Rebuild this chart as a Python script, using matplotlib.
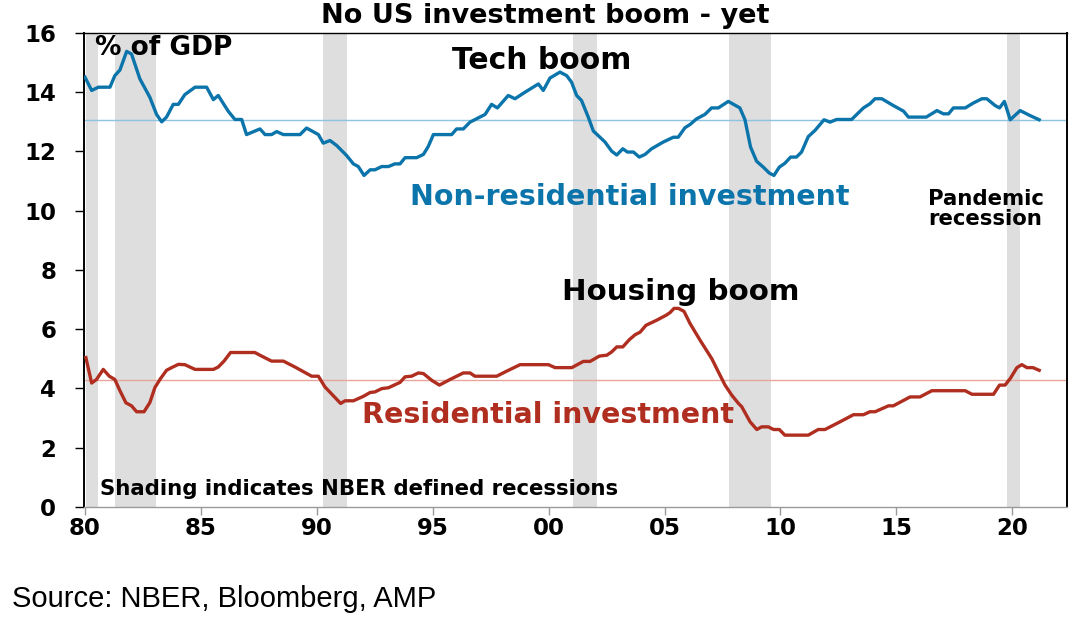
import numpy as np
import matplotlib
matplotlib.use("Agg")
import matplotlib.pyplot as plt

# --- data (year, % of GDP)
nonres_year = [1980.00, 1980.29, 1980.58, 1981.08, 1981.29, 1981.51, 1981.80, 1982.01,
               1982.37, 1982.80, 1983.09, 1983.31, 1983.52, 1983.81, 1984.03, 1984.31,
               1984.75, 1985.25, 1985.54, 1985.75, 1986.18, 1986.47, 1986.76, 1986.97,
               1987.55, 1987.77, 1988.05, 1988.27, 1988.56, 1989.28, 1989.56, 1990.07,
               1990.28, 1990.57, 1990.86, 1991.29, 1991.58, 1991.79, 1992.04, 1992.30,
               1992.51, 1992.80, 1993.09, 1993.37, 1993.59, 1993.81, 1994.31, 1994.60,
               1994.81, 1995.03, 1995.82, 1996.03, 1996.32, 1996.61, 1997.26, 1997.54,
               1997.79, 1998.26, 1998.55, 1998.98, 1999.56, 1999.77, 2000.06, 2000.49,
               2000.78, 2000.99, 2001.21, 2001.42, 2001.71, 2001.93, 2002.43, 2002.72,
               2002.94, 2003.20, 2003.40, 2003.66, 2003.91, 2004.16, 2004.44, 2004.95,
               2005.38, 2005.59, 2005.88, 2006.10, 2006.38, 2006.74, 2007.03, 2007.32,
               2007.75, 2008.25, 2008.47, 2008.71, 2008.97, 2009.26, 2009.52, 2009.72,
               2009.95, 2010.19, 2010.44, 2010.69, 2010.91, 2011.20, 2011.49, 2011.88,
               2012.14, 2012.42, 2013.07, 2013.29, 2013.58, 2013.86, 2014.08, 2014.37,
               2014.87, 2015.31, 2015.52, 2016.29, 2016.75, 2017.03, 2017.25, 2017.46,
               2017.97, 2018.33, 2018.69, 2018.90, 2019.26, 2019.45, 2019.66, 2019.91,
               2020.34, 2020.77, 2021.16]
nonres_val = [14.51, 14.06, 14.17, 14.17, 14.56, 14.75, 15.38, 15.29,
              14.45, 13.83, 13.25, 13.00, 13.16, 13.59, 13.59, 13.92,
              14.17, 14.17, 13.75, 13.89, 13.36, 13.08, 13.08, 12.57,
              12.76, 12.57, 12.57, 12.67, 12.57, 12.57, 12.79, 12.57,
              12.28, 12.37, 12.20, 11.86, 11.58, 11.49, 11.19, 11.38,
              11.38, 11.49, 11.49, 11.58, 11.58, 11.79, 11.79, 11.90,
              12.17, 12.57, 12.57, 12.76, 12.76, 12.99, 13.25, 13.59,
              13.47, 13.89, 13.78, 14.00, 14.28, 14.06, 14.48, 14.68,
              14.56, 14.34, 13.89, 13.72, 13.16, 12.69, 12.32, 12.01,
              11.88, 12.09, 11.98, 11.98, 11.81, 11.90, 12.09, 12.32,
              12.48, 12.48, 12.80, 12.91, 13.10, 13.25, 13.47, 13.47,
              13.69, 13.47, 13.07, 12.15, 11.67, 11.47, 11.27, 11.19,
              11.47, 11.60, 11.81, 11.81, 11.98, 12.50, 12.71, 13.07,
              12.99, 13.08, 13.08, 13.25, 13.47, 13.61, 13.78, 13.78,
              13.55, 13.36, 13.16, 13.16, 13.38, 13.27, 13.27, 13.47,
              13.47, 13.64, 13.78, 13.78, 13.55, 13.47, 13.69, 13.07,
              13.38, 13.21, 13.07]

res_year = [1980.04, 1980.29, 1980.50, 1980.79, 1981.05, 1981.29, 1981.51, 1981.77,
            1982.01, 1982.23, 1982.55, 1982.80, 1983.02, 1983.26, 1983.52, 1983.74,
            1984.03, 1984.31, 1984.75, 1985.54, 1985.75, 1986.00, 1986.28, 1987.33,
            1987.62, 1988.05, 1988.56, 1989.06, 1989.78, 1990.07, 1990.35, 1991.03,
            1991.22, 1991.58, 1992.01, 1992.30, 1992.51, 1992.80, 1993.09, 1993.59,
            1993.81, 1994.09, 1994.38, 1994.60, 1994.96, 1995.29, 1995.75, 1996.32,
            1996.61, 1996.82, 1997.76, 1998.19, 1998.77, 1999.99, 2000.28, 2001.00,
            2001.50, 2001.79, 2002.19, 2002.51, 2002.72, 2002.94, 2003.20, 2003.49,
            2003.73, 2003.95, 2004.20, 2004.66, 2005.07, 2005.24, 2005.41, 2005.60,
            2005.84, 2006.10, 2006.53, 2007.04, 2007.32, 2007.61, 2007.90, 2008.19,
            2008.33, 2008.69, 2008.98, 2009.19, 2009.48, 2009.70, 2009.95, 2010.19,
            2011.20, 2011.63, 2011.92, 2012.57, 2013.15, 2013.58, 2013.86, 2014.08,
            2014.66, 2014.87, 2015.59, 2016.02, 2016.53, 2017.97, 2018.26, 2019.19,
            2019.45, 2019.69, 2019.91, 2020.20, 2020.41, 2020.63, 2020.89, 2021.16]
res_val = [5.04, 4.18, 4.30, 4.64, 4.41, 4.30, 3.92, 3.51,
           3.41, 3.21, 3.21, 3.52, 4.03, 4.33, 4.61, 4.70,
           4.81, 4.80, 4.64, 4.64, 4.72, 4.92, 5.21, 5.21,
           5.09, 4.92, 4.92, 4.72, 4.41, 4.41, 4.05, 3.49,
           3.58, 3.58, 3.73, 3.86, 3.88, 3.99, 4.02, 4.20,
           4.39, 4.41, 4.52, 4.50, 4.27, 4.11, 4.30, 4.52,
           4.52, 4.41, 4.41, 4.58, 4.80, 4.80, 4.70, 4.70,
           4.91, 4.91, 5.09, 5.12, 5.23, 5.40, 5.40, 5.65,
           5.81, 5.90, 6.13, 6.30, 6.47, 6.56, 6.70, 6.70,
           6.60, 6.19, 5.63, 5.00, 4.56, 4.11, 3.77, 3.49,
           3.38, 2.87, 2.61, 2.70, 2.70, 2.61, 2.61, 2.42,
           2.42, 2.61, 2.61, 2.87, 3.11, 3.11, 3.21, 3.21,
           3.41, 3.41, 3.71, 3.71, 3.92, 3.92, 3.80, 3.80,
           4.11, 4.11, 4.33, 4.70, 4.80, 4.70, 4.70, 4.61]

nonres_avg = 13.05
res_avg = 4.28

# NBER recessions as drawn (start, end)
rec_start = [1980.04, 1981.29, 1990.27, 2001.04, 2007.78, 2019.78]
rec_end = [1980.55, 1983.06, 1991.30, 2002.07, 2009.58, 2020.34]

xticks = [1980, 1985, 1990, 1995, 2000, 2005, 2010, 2015, 2020]
xticklabels = ["80", "85", "90", "95", "00", "05", "10", "15", "20"]
yticks = [0, 2, 4, 6, 8, 10, 12, 14, 16]

BLUE = "#0b74ab"
RED = "#b02e1f"
BOLD = ["DejaVu Sans"]

fig = plt.figure(figsize=(10.87, 6.32), dpi=100)
ax = fig.add_axes([84 / 1087, 1 - 506.8 / 632, (1067 - 84) / 1087, (506.8 - 33) / 632])

for s, e in zip(rec_start, rec_end):
    ax.axvspan(s, e, color="#dedede", lw=0, zorder=0)

ax.axhline(nonres_avg, color="#8cc4e2", lw=1.0, zorder=1)
ax.axhline(res_avg, color="#e6a69c", lw=1.0, zorder=1)
ax.plot(nonres_year, nonres_val, color=BLUE, lw=2.4, zorder=3, solid_joinstyle="round")
ax.plot(res_year, res_val, color=RED, lw=2.4, zorder=3, solid_joinstyle="round")

ax.set_xlim(1979.96, 2022.36)
ax.set_ylim(0, 16)
ax.set_xticks(xticks)
ax.set_xticklabels(xticklabels)
ax.set_yticks(yticks)
for lab in ax.get_xticklabels() + ax.get_yticklabels():
    lab.set_family(BOLD)
    lab.set_fontweight("bold")
    lab.set_fontsize(16.5)
ax.tick_params(axis="x", direction="out", length=5.8, width=1, color="#9a9a9a", pad=1.5)
ax.tick_params(axis="y", direction="out", length=6.5, width=1, color="black", pad=13.5)

ax.spines["left"].set_linewidth(1.4)
ax.spines["right"].set_linewidth(1.4)
ax.spines["top"].set_linewidth(1.0)
ax.spines["bottom"].set_color("#9a9a9a")
ax.spines["bottom"].set_linewidth(1.0)

tk = dict(family=BOLD, fontweight="bold", zorder=4, va="baseline")
ax.text(1980.43, 15.27, "% of GDP", fontsize=19, ha="left", **tk)
ax.text(1999.72, 14.79, "Tech boom", fontsize=21.5, ha="center", **tk)
ax.text(2003.51, 10.18, "Non-residential investment", fontsize=20.5, color=BLUE,
        ha="center", **tk)
ax.text(2016.37, 10.18, "Pandemic", fontsize=15.3, ha="left", **tk)
ax.text(2016.37, 9.51, "recession", fontsize=15.3, ha="left", **tk)
ax.text(2005.71, 7.00, "Housing boom", fontsize=21.2, ha="center", **tk)
ax.text(1999.97, 2.82, "Residential investment", fontsize=20.5, color=RED,
        ha="center", **tk)
ax.text(1980.65, 0.40, "Shading indicates NBER defined recessions", fontsize=15.3,
        ha="left", **tk)

fig.text(545 / 1087, 1 - 23 / 632, "No US investment boom - yet", family=BOLD,
         fontweight="bold", fontsize=19.5, ha="center", va="baseline")
fig.text(12 / 1087, 1 - 607 / 632, "Source: NBER, Bloomberg, AMP",
         family=["Liberation Sans", "DejaVu Sans"], fontsize=21, ha="left", va="baseline")

fig.savefig("out.png", dpi=100)
